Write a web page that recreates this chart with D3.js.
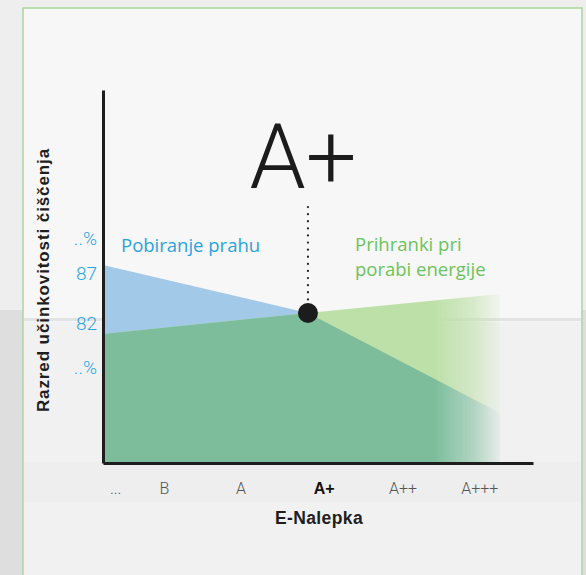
<!DOCTYPE html>
<html>
<head>
<meta charset="utf-8">
<script src="https://cdn.jsdelivr.net/npm/d3@7"></script>
<style>
  html, body { margin: 0; padding: 0; background: #e9e9e9; }
  svg { display: block; }
</style>
</head>
<body>
<div id="chart"></div>
<script>
const kWidth = 586;
const kHeight = 575;

// energy label categories and where each label sits on the label axis
const categories = ["...", "B", "A", "A+", "A++", "A+++"];
const categoryPos = [0.17, 0.85, 1.92, 3.08, 4.18, 5.25];

// y axis tick labels
const yTickValues = [90.5, 87, 82, 77.6];
const yTickLabels = ["..%", "87", "82", "..%"];

// two series, sampled at the start, the A+ crossing and the faded end
const seriesX = [0, 2.86, 5.54];
const dustPickup = [87.8, 83.0, 73.0];
const energySaving = [80.9, 83.0, 84.9];

const highlightX = 2.86;
const highlightY = 83.0;

function createSvg()
{
  const svg = d3.select("#chart")
    .append("svg")
    .attr("width", kWidth)
    .attr("height", kHeight);

  const defs = svg.append("defs");

  // fade for the right end of the areas
  const fade = defs.append("linearGradient")
    .attr("id", "fade")
    .attr("gradientUnits", "userSpaceOnUse")
    .attr("x1", 435).attr("x2", 500).attr("y1", 0).attr("y2", 0);
  fade.append("stop").attr("offset", 0).attr("stop-color", "#fff").attr("stop-opacity", 1);
  fade.append("stop").attr("offset", 0.6).attr("stop-color", "#fff").attr("stop-opacity", 0.55);
  fade.append("stop").attr("offset", 1).attr("stop-color", "#fff").attr("stop-opacity", 0.08);
  defs.append("mask")
    .attr("id", "fadeMask")
    .attr("maskUnits", "userSpaceOnUse")
    .attr("x", 0).attr("y", 0).attr("width", kWidth).attr("height", kHeight)
    .append("rect")
    .attr("width", kWidth).attr("height", kHeight)
    .attr("fill", "url(#fade)");

  // backdrop: floor photo behind a light panel
  svg.append("rect").attr("width", kWidth).attr("height", 310).attr("fill", "#eeeeee");
  svg.append("rect").attr("y", 310).attr("width", kWidth).attr("height", kHeight - 310).attr("fill", "#dedede");
  svg.append("rect")
    .attr("x", 23).attr("y", 8)
    .attr("width", 559).attr("height", 600)
    .attr("fill", "#f7f7f7")
    .attr("stroke", "#a6d996")
    .attr("stroke-width", 1.5);
  svg.append("rect").attr("x", 24).attr("y", 322).attr("width", 557).attr("height", 253).attr("fill", "#f1f1f1");
  svg.append("rect").attr("x", 24).attr("y", 318).attr("width", 557).attr("height", 3).attr("fill", "#e3e3e3");
  svg.append("rect").attr("x", 24).attr("y", 462).attr("width", 557).attr("height", 40).attr("fill", "#eeeeee");

  return svg;
}

function drawChart(svg)
{
  const x = d3.scaleLinear().domain([0, 6]).range([103, 533]);
  const y = d3.scaleLinear().domain([68, 105.3]).range([463, 90]);

  const dust = seriesX.map((v, i) => ({ x: v, y: dustPickup[i] }));
  const energy = seriesX.map((v, i) => ({ x: v, y: energySaving[i] }));
  const both = seriesX.map((v, i) => ({ x: v, y: Math.min(dustPickup[i], energySaving[i]) }));

  const area = d3.area()
    .x(d => x(d.x))
    .y0(y(68))
    .y1(d => y(d.y));

  const areas = svg.append("g").attr("mask", "url(#fadeMask)");
  areas.append("path").datum(dust).attr("d", area).attr("fill", "#a3c9e8");
  areas.append("path").datum(energy).attr("d", area).attr("fill", "#bde0a8");
  areas.append("path").datum(both).attr("d", area).attr("fill", "#7dbd9c");

  // axes
  const yAxis = d3.axisLeft(y)
    .tickValues(yTickValues)
    .tickFormat((d, i) => yTickLabels[i])
    .tickSize(0)
    .tickPadding(6);
  const gy = svg.append("g")
    .attr("transform", `translate(${x(0)},0)`)
    .call(yAxis);
  gy.select(".domain").attr("stroke", "#1e1e1e").attr("stroke-width", 3);
  gy.selectAll("text")
    .attr("fill", "#2ba5de")
    .style("font-family", "Roboto, 'Open Sans', sans-serif")
    .style("font-weight", 300)
    .style("font-size", "19px");

  const xAxis = d3.axisBottom(x)
    .tickValues(categoryPos)
    .tickFormat((d, i) => categories[i])
    .tickSize(0)
    .tickPadding(20);
  const gx = svg.append("g")
    .attr("transform", `translate(0,${y(68)})`)
    .call(xAxis);
  gx.select(".domain").attr("stroke", "#1e1e1e").attr("stroke-width", 3);
  gx.selectAll("text")
    .attr("fill", "#555")
    .style("font-family", "Roboto, 'Open Sans', sans-serif")
    .style("font-weight", 300)
    .style("font-size", "16px");
  gx.selectAll("text")
    .filter((d, i) => categories[i] === "A+")
    .attr("fill", "#111")
    .style("font-family", "'Liberation Sans', Arial, sans-serif")
    .style("font-weight", 700)
    .style("font-size", "16px");

  // axis titles
  svg.append("text")
    .attr("x", 319).attr("y", 524)
    .attr("text-anchor", "middle")
    .attr("fill", "#1e1e1e")
    .style("font-family", "'Liberation Sans', Arial, sans-serif")
    .style("font-weight", 700)
    .style("font-size", "17.5px")
    .style("letter-spacing", "0.4px")
    .text("E-Nalepka");

  svg.append("text")
    .attr("transform", "translate(49,280) rotate(-90)")
    .attr("text-anchor", "middle")
    .attr("fill", "#1e1e1e")
    .style("font-family", "'Liberation Sans', Arial, sans-serif")
    .style("font-weight", 700)
    .style("font-size", "17px")
    .style("letter-spacing", "0.9px")
    .text("Razred učinkovitosti čiščenja");

  // highlight marker
  svg.append("line")
    .attr("x1", x(highlightX)).attr("x2", x(highlightX))
    .attr("y1", 207).attr("y2", y(highlightY) - 8)
    .attr("stroke", "#222")
    .attr("stroke-width", 2.2)
    .attr("stroke-linecap", "round")
    .attr("stroke-dasharray", "0.1 7");
  svg.append("circle")
    .attr("cx", x(highlightX)).attr("cy", y(highlightY))
    .attr("r", 10)
    .attr("fill", "#1c1c1c");
  svg.append("text")
    .attr("x", 303).attr("y", 188)
    .attr("text-anchor", "middle")
    .attr("fill", "#1c1c1c")
    .style("font-family", "Roboto, sans-serif")
    .style("font-weight", 300)
    .style("font-size", "90px")
    .text("A+");

  // series labels
  svg.append("text")
    .attr("x", 121).attr("y", 252)
    .attr("fill", "#29a3dc")
    .style("font-family", "'Open Sans', sans-serif")
    .style("font-size", "18.5px")
    .text("Pobiranje prahu");

  const green = svg.append("text")
    .attr("fill", "#6cc35c")
    .style("font-family", "'Open Sans', sans-serif")
    .style("font-size", "18.5px");
  green.append("tspan").attr("x", 355).attr("y", 251).text("Prihranki pri");
  green.append("tspan").attr("x", 355).attr("y", 276).text("porabi energije");
}

document.addEventListener("DOMContentLoaded", () => {
  const svg = createSvg();
  drawChart(svg);
});
</script>
</body>
</html>
